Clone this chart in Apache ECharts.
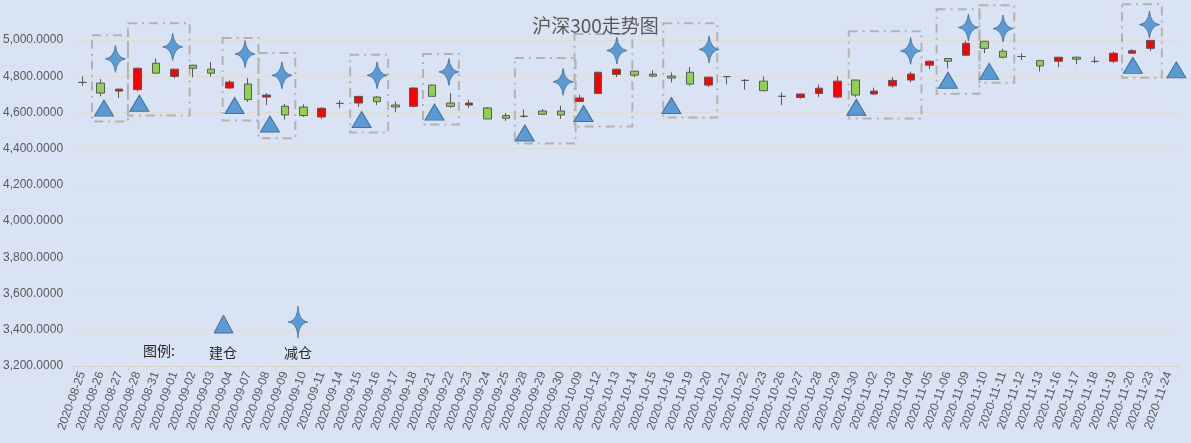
<!DOCTYPE html>
<html>
<head>
<meta charset="utf-8">
<script src="https://cdn.jsdelivr.net/npm/echarts@6/dist/echarts.min.js"></script>
<style>
  html, body { margin: 0; padding: 0; background: #dae3f3; }
  #kline { width: 1191px; height: 443px; }
</style>
</head>
<body>
<div id="kline"></div>
<script>
// 交易日
var dates = [
  '2020-08-25','2020-08-26','2020-08-27','2020-08-28','2020-08-31',
  '2020-09-01','2020-09-02','2020-09-03','2020-09-04','2020-09-07',
  '2020-09-08','2020-09-09','2020-09-10','2020-09-11','2020-09-14',
  '2020-09-15','2020-09-16','2020-09-17','2020-09-18','2020-09-21',
  '2020-09-22','2020-09-23','2020-09-24','2020-09-25','2020-09-28',
  '2020-09-29','2020-09-30','2020-10-09','2020-10-12','2020-10-13',
  '2020-10-14','2020-10-15','2020-10-16','2020-10-19','2020-10-20',
  '2020-10-21','2020-10-22','2020-10-23','2020-10-26','2020-10-27',
  '2020-10-28','2020-10-29','2020-10-30','2020-11-02','2020-11-03',
  '2020-11-04','2020-11-05','2020-11-06','2020-11-09','2020-11-10',
  '2020-11-11','2020-11-12','2020-11-13','2020-11-16','2020-11-17',
  '2020-11-18','2020-11-19','2020-11-20','2020-11-23','2020-11-24'
];
// 开盘 / 收盘 / 最低 / 最高 (11-24 无数据)
var openArr  = [4766,4762,4718,4726,4872,4799,4861,4839,4735,4757,4685,4634,4630,4575,4650,4652,4685,4641,4634,4751,
                4652,4641,4625,4583,4579,4608,4608,4661,4705,4810,4828,4812,4801,4822,4751,4798,4777,4773,4689,4683,
                4705,4685,4779,4702,4747,4779,4861,4898,4916,4993,4938,4909,4886,4883,4905,4882,4883,4927,4954,null];
var closeArr = [4766,4707,4729,4844,4817,4839,4844,4817,4768,4671,4696,4586,4583,4623,4650,4689,4660,4630,4735,4689,
                4634,4652,4564,4568,4579,4590,4586,4680,4822,4839,4806,4801,4790,4757,4795,4798,4777,4720,4689,4702,
                4734,4773,4696,4718,4777,4812,4883,4883,4982,4954,4905,4909,4857,4905,4894,4882,4927,4941,4998,null];
var lowArr   = [4747,4689,4680,4716,4815,4788,4795,4799,4729,4658,4641,4561,4575,4564,4625,4630,4641,4601,4628,4689,
                4625,4625,4564,4553,4570,4586,4564,4656,4702,4795,4795,4795,4766,4748,4740,4755,4726,4718,4641,4676,
                4685,4678,4685,4698,4737,4766,4839,4843,4914,4927,4899,4890,4826,4850,4866,4872,4872,4927,4938,null];
var highArr  = [4799,4784,4729,4848,4899,4839,4863,4879,4777,4790,4707,4647,4645,4630,4667,4692,4690,4660,4738,4753,
                4707,4670,4630,4597,4616,4619,4637,4698,4824,4841,4830,4832,4821,4850,4797,4799,4784,4799,4711,4703,
                4753,4799,4780,4737,4795,4825,4886,4899,4996,4995,4952,4927,4888,4907,4909,4909,4936,4949,5000,null];

// 建仓 / 减仓 标记 (x 为交易日序号, 可带小数)
var buyX  = [1.18, 3.10, 8.27, 10.19, 15.17, 19.13, 24.03, 27.22, 31.99, 42.03, 47.01, 49.25, 57.05, 59.41];
var buyY  = [4624, 4651, 4638, 4536,  4561,  4602,  4487,  4594,  4638,  4629,  4778,  4827,  4860,  4835];
var sellX = [1.80, 4.91, 8.84, 10.84, 16.01, 19.91, 26.11, 29.03, 34.04, 44.98, 48.12, 50.00, 57.95];
var sellY = [4896, 4962, 4923, 4805,  4805,  4824,  4769,  4942,  4948,  4940,  5069,  5063,  5085];
// 虚线框 [x1, y上, x2, y下]
var boxes = [
  [0.53,5027,2.48,4550],[2.48,5093,5.83,4583],[7.62,5011,9.57,4555],[9.57,4929,11.57,4457],
  [14.55,4918,16.61,4489],[18.50,4923,20.45,4533],[23.49,4901,26.79,4429],[26.73,5033,29.87,4522],
  [31.55,5093,34.48,4572],[41.62,5049,45.57,4566],[46.39,5170,48.72,4704],[48.72,5192,50.61,4764],
  [56.46,5198,58.62,4791]
];

var kData = dates.map(function (d, i) {
  if (openArr[i] == null) return '-';
  return [openArr[i], closeArr[i], lowArr[i], highArr[i]];
});
var buyData = buyX.map(function (x, i) { return [x, buyY[i]]; });
var sellData = sellX.map(function (x, i) { return [x, sellY[i]]; });
var boxData = boxes.map(function (b) { return [{coord: [b[0], b[1]]}, {coord: [b[2], b[3]]}]; });

var starPath = 'path://M10,0 Q11.3,12.6 20,14 Q11.3,15.4 10,28 Q8.7,15.4 0,14 Q8.7,12.6 10,0 Z';
var labelFont = 'Liberation Sans, Noto Sans CJK SC, sans-serif';

// 图例里的四角星, 用多边形近似
function starPoints(cx, cy, w, h) {
  var pts = [];
  var tips = [[0, -h / 2], [w / 2, 0], [0, h / 2], [-w / 2, 0]];
  for (var k = 0; k < 4; k++) {
    var a = tips[k], b = tips[(k + 1) % 4];
    var c = [(a[0] + b[0]) * 0.07, (a[1] + b[1]) * 0.07];
    for (var t = 0; t < 1; t += 0.125) {
      var x = (1 - t) * (1 - t) * a[0] + 2 * t * (1 - t) * c[0] + t * t * b[0];
      var y = (1 - t) * (1 - t) * a[1] + 2 * t * (1 - t) * c[1] + t * t * b[1];
      pts.push([cx + x, cy + y]);
    }
  }
  return pts;
}

function fmt(v) {
  var s = v.toFixed(4).split('.');
  return s[0].replace(/\B(?=(\d{3})+(?!\d))/g, ',') + '.' + s[1];
}

var chart = echarts.init(document.getElementById('kline'));
var option = {
  backgroundColor: '#dae3f3',
  animation: false,
  title: {
    text: '沪深300走势图',
    left: 'center',
    top: 11,
    textStyle: { color: '#595959', fontSize: 19, fontWeight: 'normal', fontFamily: 'Noto Sans CJK SC' }
  },
  grid: { left: 70, right: 13, top: 3.8, bottom: 77 },
  xAxis: [
    {
      type: 'category',
      data: dates,
      boundaryGap: true,
      axisLine: { lineStyle: { color: '#d9d4c6' } },
      axisTick: { show: true, length: 5, lineStyle: { color: '#d9d4c6' } },
      axisLabel: { rotate: 70, color: '#595959', fontSize: 12, margin: 6, interval: 0, fontFamily: labelFont },
      splitLine: { show: false }
    },
    { type: 'value', min: -0.5, max: 59.5, show: false }
  ],
  yAxis: {
    type: 'value',
    min: 3200,
    max: 5200,
    interval: 200,
    axisLine: { show: false },
    axisTick: { show: false },
    axisLabel: { color: '#595959', fontSize: 12, margin: 10, showMaxLabel: false, fontFamily: labelFont, formatter: fmt },
    splitLine: { showMaxLine: false, lineStyle: { color: '#e0dccf', width: 1 } }
  },
  series: [
    {
      name: '沪深300',
      type: 'candlestick',
      data: kData,
      barWidth: 8,
      itemStyle: {
        color: '#ff0000',
        color0: '#92d050',
        borderColor: '#595959',
        borderColor0: '#595959',
        borderWidth: 1
      }
    },
    {
      name: '框',
      type: 'scatter',
      xAxisIndex: 1,
      data: [],
      markArea: {
        silent: true,
        itemStyle: { color: 'rgba(0,0,0,0)', borderColor: '#b5b2ae', borderWidth: 2, borderType: [9, 5, 2, 5] },
        data: boxData
      }
    },
    {
      name: '建仓',
      type: 'scatter',
      xAxisIndex: 1,
      symbol: 'triangle',
      symbolSize: [19, 16],
      itemStyle: { color: '#5b9bd5', borderColor: '#41719c', borderWidth: 1, opacity: 1 },
      data: buyData,
      z: 5
    },
    {
      name: '减仓',
      type: 'scatter',
      xAxisIndex: 1,
      symbol: starPath,
      symbolSize: [20, 27],
      itemStyle: { color: '#5b9bd5', borderColor: '#41719c', borderWidth: 0.8, opacity: 1 },
      data: sellData,
      z: 5
    }
  ],
  graphic: [
    { type: 'text', z: 100, x: 143, y: 344, style: { text: '图例:', fontSize: 14, fill: '#262626', fontFamily: 'Noto Sans CJK SC' } },
    { type: 'text', z: 100, x: 209, y: 346, style: { text: '建仓', fontSize: 14, fill: '#262626', fontFamily: 'Noto Sans CJK SC' } },
    { type: 'text', z: 100, x: 284, y: 346, style: { text: '减仓', fontSize: 14, fill: '#262626', fontFamily: 'Noto Sans CJK SC' } },
    { type: 'polygon', z: 100, shape: { points: [[223.5, 315], [214, 333], [233, 333]] },
      style: { fill: '#5b9bd5', stroke: '#41719c', lineWidth: 1 } },
    { type: 'polygon', z: 100, shape: { points: starPoints(298, 322, 20, 32) },
      style: { fill: '#5b9bd5', stroke: '#41719c', lineWidth: 0.8 } }
  ]
};
chart.setOption(option);
</script>
</body>
</html>
